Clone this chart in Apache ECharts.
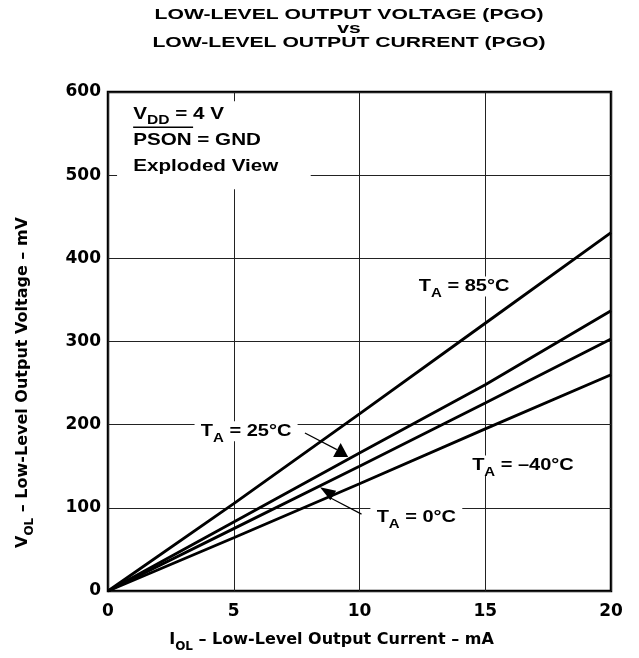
<!DOCTYPE html>
<html>
<head>
<meta charset="utf-8">
<script src="https://cdn.jsdelivr.net/npm/echarts@6/dist/echarts.min.js"></script>
<style>html,body{margin:0;padding:0;background:#fff}#c{width:639px;height:658px}</style>
</head>
<body>
<div id="c"></div>
<script>
// Data
const currents = [0, 5, 10, 15, 20];           // I_OL, mA
const v85 = [0, 105, 213, 322, 431];           // T_A = 85°C, mV
const v25 = [0, 83, 166, 248, 337];            // T_A = 25°C
const v0 = [0, 75, 150, 226, 303];             // T_A = 0°C
const vm40 = [0, 64, 129, 195, 260];           // T_A = -40°C
const xTicks = [0, 5, 10, 15, 20];
const yTicks = [0, 100, 200, 300, 400, 500, 600];

const FONT = '"Liberation Sans", Arial, Helvetica, sans-serif';
const AXFONT = '"DejaVu Sans", sans-serif';
const SX = 1.25; // horizontal stretch of the reference lettering
const chart = echarts.init(document.getElementById('c'), null, {renderer: 'canvas'});

function pairs(ys) { return currents.map((x, i) => [x, ys[i]]); }
function mkSeries(name, ys) {
  return {name, type: 'line', data: pairs(ys), showSymbol: false, symbol: 'none',
    lineStyle: {color: '#000', width: 2.9}, z: 5, animation: false};
}

const axMain = {fontSize: 16, fontWeight: 'bold', fontFamily: AXFONT, lineHeight: 18, color: '#000'};
const axSub = {fontSize: 12, fontWeight: 'bold', fontFamily: AXFONT, verticalAlign: 'bottom', lineHeight: 14, padding: [0, 0, -4, 0], color: '#000'};
const main = {fontSize: 16, fontWeight: 'bold', fontFamily: FONT, lineHeight: 18, color: '#000'};
const sub = {fontSize: 12, fontWeight: 'bold', fontFamily: FONT, verticalAlign: 'bottom', lineHeight: 14, padding: [0, 0, -4, 0], color: '#000'};
const boxMain = Object.assign({}, main, {fontSize: 16.5});
const boxSub = Object.assign({}, sub, {fontSize: 12.5});

const option = {
  animation: false,
  backgroundColor: '#fff',
  grid: {left: 108, right: 28, top: 92, bottom: 67, show: true, borderColor: '#000', borderWidth: 2.5, backgroundColor: 'transparent'},
  xAxis: {
    type: 'value', min: 0, max: 20, interval: 5,
    axisLine: {show: false}, axisTick: {show: false},
    splitLine: {show: true, lineStyle: {color: '#222', width: 1}},
    axisLabel: {fontFamily: AXFONT, fontSize: 17, fontWeight: 'bold', color: '#000', margin: 12,
      formatter: v => xTicks.includes(v) ? String(v) : ''},
    name: '{m|I}{s|OL}{m| – Low-Level Output Current – mA}',
    nameLocation: 'middle', nameGap: 40,
    nameTextStyle: {padding: [0, 56, 0, 0], rich: {m: axMain, s: axSub}}
  },
  yAxis: {
    type: 'value', min: 0, max: 600, interval: 100,
    axisLine: {show: false}, axisTick: {show: false},
    splitLine: {show: true, lineStyle: {color: '#222', width: 1}},
    axisLabel: {fontFamily: AXFONT, fontSize: 17, fontWeight: 'bold', color: '#000', margin: 7,
      formatter: v => yTicks.includes(v) ? String(v) : ''},
    name: '{m|V}{s|OL}{m| – Low-Level Output Voltage – mV}',
    nameLocation: 'middle', nameGap: 76,
    nameTextStyle: {padding: [0, 82, 0, 0], rich: {m: axMain, s: axSub}}
  },
  series: [
    mkSeries('85', v85), mkSeries('25', v25), mkSeries('0', v0), mkSeries('-40', vm40)
  ]
};
chart.setOption(option);

const px = p => chart.convertToPixel({gridIndex: 0}, p);
const g = [];

// title
g.push({type: 'text', x: 349, y: 8, scaleX: 1.41, z: 30,
  style: {text: 'LOW-LEVEL OUTPUT VOLTAGE (PGO)\nvs\nLOW-LEVEL OUTPUT CURRENT (PGO)',
    align: 'center', verticalAlign: 'top', font: 'bold 15px ' + FONT, lineHeight: 14, fill: '#000'}});

// Curve labels (centres in data coordinates)
const labels = [
  {at: [14.16, 366], text: '{m|T}{s|A}{m| = 85°C}'},
  {at: [5.49, 192], text: '{m|T}{s|A}{m| = 25°C}'},
  {at: [16.5, 151], text: '{m|T}{s|A}{m| = –40°C}'},
  {at: [12.26, 88.4], text: '{m|T}{s|A}{m| = 0°C}'}
];
labels.forEach(l => {
  const p = px(l.at);
  g.push({type: 'text', x: p[0], y: p[1], scaleX: SX, z: 20,
    style: {text: l.text, align: 'center', verticalAlign: 'middle', backgroundColor: '#fff', padding: [1, 5, 1, 5],
      rich: {m: main, s: sub}}});
});
function seg(from, to) {
  const a = px(from), b = px(to);
  g.push({type: 'line', z: 21, shape: {x1: a[0], y1: a[1], x2: b[0], y2: b[1]}, style: {stroke: '#000', lineWidth: 1.2}});
}
function head(tip, dirDeg, len, halfW) {
  const t = px(tip);
  const ang = dirDeg * Math.PI / 180;
  const bx = t[0] - Math.cos(ang) * len, by = t[1] - Math.sin(ang) * len;
  const nx = -Math.sin(ang) * halfW, ny = Math.cos(ang) * halfW;
  g.push({type: 'polygon', z: 22, shape: {points: [[t[0], t[1]], [bx + nx, by + ny], [bx - nx, by - ny]]}, style: {fill: '#000'}});
}
// 25°C pointer
seg([7.83, 190], [9.1, 170]);
head([9.25, 178.1], -90, 14, 7.5);
// 0°C pointer
seg([10.08, 92.4], [8.87, 111.6]);
head([8.43, 124.8], -148, 15.6, 5.5);

// condition box
const bTL = px([0.36, 589]), bBR = px([8.06, 483]);
g.push({type: 'rect', z: 15, shape: {x: bTL[0], y: bTL[1], width: bBR[0] - bTL[0], height: bBR[1] - bTL[1]}, style: {fill: '#fff'}});
const x0 = px([1.0, 0])[0];
const boxLines = [
  {v: 573.5, text: '{m|V}{s|DD}{m| = 4 V}'},
  {v: 542, text: '{m|PSON = GND}'},
  {v: 511, text: '{m|Exploded View}'}
];
boxLines.forEach(b => {
  const p = px([1.0, b.v]);
  g.push({type: 'text', z: 20, x: x0, y: p[1], scaleX: SX,
    style: {text: b.text, align: 'left', verticalAlign: 'middle', rich: {m: boxMain, s: boxSub}}});
});
// overline on PSON
const ovY = px([0, 557.5])[1];
g.push({type: 'line', z: 21, shape: {x1: x0, y1: ovY, x2: x0 + 46.5 * SX * 16.5 / 16, y2: ovY}, style: {stroke: '#000', lineWidth: 1.5}});

chart.setOption({graphic: g});
</script>
</body>
</html>
